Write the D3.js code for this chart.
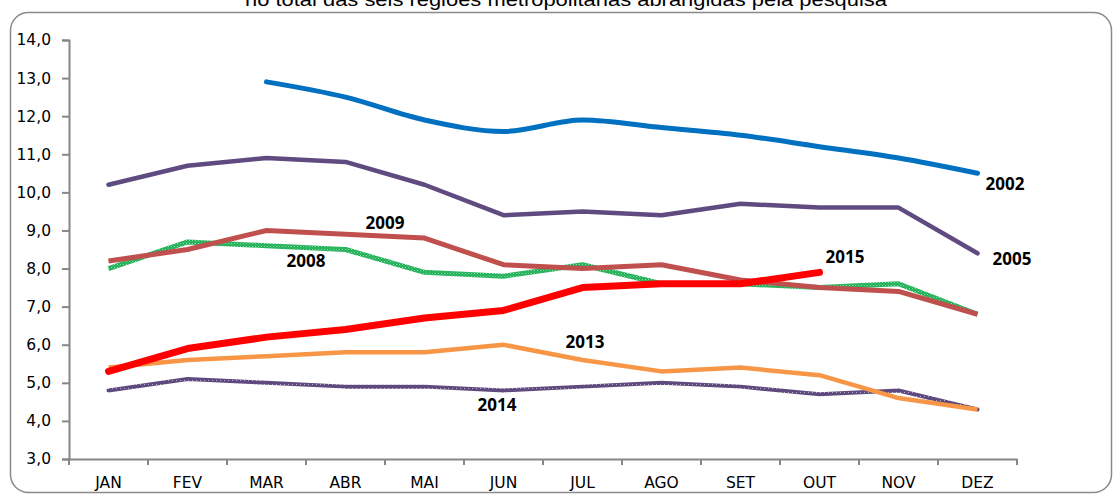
<!DOCTYPE html>
<html lang="pt">
<head>
<meta charset="UTF-8">
<title>Taxa de desemprego</title>
<style>
  body { margin: 0; padding: 0; background: #fff; }
  svg { display: block; }
</style>
</head>
<body>
<script src="https://d3js.org/d3.v7.min.js"></script>
<script>
// meses e valores
const months = ['JAN', 'FEV', 'MAR', 'ABR', 'MAI', 'JUN', 'JUL', 'AGO', 'SET', 'OUT', 'NOV', 'DEZ'];
const yTicks = [3, 4, 5, 6, 7, 8, 9, 10, 11, 12, 13, 14];

const s2002 = [null, null, 12.9, 12.5, 11.9, 11.6, 11.9, 11.7, 11.5, 11.2, 10.9, 10.5];
const s2005 = [10.2, 10.7, 10.9, 10.8, 10.2, 9.4, 9.5, 9.4, 9.7, 9.6, 9.6, 8.4];
const s2008 = [8.0, 8.7, 8.6, 8.5, 7.9, 7.8, 8.1, 7.6, 7.6, 7.5, 7.6, 6.8];
const s2009 = [8.2, 8.5, 9.0, 8.9, 8.8, 8.1, 8.0, 8.1, 7.7, 7.5, 7.4, 6.8];
const s2013 = [5.4, 5.6, 5.7, 5.8, 5.8, 6.0, 5.6, 5.3, 5.4, 5.2, 4.6, 4.3];
const s2014 = [4.8, 5.1, 5.0, 4.9, 4.9, 4.8, 4.9, 5.0, 4.9, 4.7, 4.8, 4.3];
const s2015 = [5.3, 5.9, 6.2, 6.4, 6.7, 6.9, 7.5, 7.6, 7.6, 7.9, null, null];

const width = 1113, height = 495;
const svg = d3.select('body').append('svg')
  .attr('width', width)
  .attr('height', height);

// textura das linhas 2008 e 2014
const defs = svg.append('defs');
const pGreen = defs.append('pattern').attr('id', 'pGreen')
  .attr('patternUnits', 'userSpaceOnUse').attr('width', 3).attr('height', 3);
pGreen.append('rect').attr('width', 3).attr('height', 3).attr('fill', '#1FAF57');
pGreen.append('rect').attr('width', 1).attr('height', 1).attr('fill', '#8FDDAA');
pGreen.append('rect').attr('x', 1.5).attr('y', 1.5).attr('width', 1).attr('height', 1).attr('fill', '#6CCF8E');
const pPurple = defs.append('pattern').attr('id', 'pPurple')
  .attr('patternUnits', 'userSpaceOnUse').attr('width', 4).attr('height', 4);
pPurple.append('rect').attr('width', 4).attr('height', 4).attr('fill', '#5E4A7E');
pPurple.append('rect').attr('width', 1).attr('height', 1).attr('fill', '#B7ABC8');

// moldura
svg.append('rect')
  .attr('x', 10.5).attr('y', 12.5)
  .attr('width', 1101).attr('height', 480)
  .attr('rx', 18)
  .attr('fill', 'none')
  .attr('stroke', '#8a8a8a')
  .attr('stroke-width', 1.5);

// título (cortado no topo, como no original)
svg.append('text')
  .attr('x', 566).attr('y', 6)
  .attr('text-anchor', 'middle')
  .attr('font-family', 'Liberation Sans, Arial, sans-serif')
  .attr('font-size', 19)
  .attr('textLength', 642)
  .attr('lengthAdjust', 'spacingAndGlyphs')
  .text('no total das seis regiões metropolitanas abrangidas pela pesquisa');

const x = d3.scaleBand().domain(months).range([69, 1017]);
const y = d3.scaleLinear().domain([3, 14]).range([459, 40]);
const cx = m => x(m) + x.bandwidth() / 2;

const axisColor = '#868686';
const tickFont = 'DejaVu Sans, Verdana, sans-serif';

// eixo Y
const yAxis = svg.append('g')
  .attr('transform', 'translate(69,0)')
  .call(d3.axisLeft(y).tickValues(yTicks).tickSize(7).tickPadding(11)
    .tickFormat(d => d3.format('.1f')(d).replace('.', ',')));
yAxis.select('.domain').attr('stroke', axisColor).attr('stroke-width', 2);
yAxis.selectAll('.tick line').attr('stroke', axisColor).attr('stroke-width', 2);
yAxis.selectAll('.tick text')
  .attr('fill', '#000')
  .attr('font-family', tickFont)
  .attr('font-size', 15.5);

// eixo X
const xAxis = svg.append('g')
  .attr('transform', 'translate(0,459)')
  .call(d3.axisBottom(x).tickSize(0).tickPadding(18));
xAxis.select('.domain').attr('stroke', axisColor).attr('stroke-width', 2);
xAxis.selectAll('.tick text')
  .attr('fill', '#000')
  .attr('font-family', tickFont)
  .attr('font-size', 15.5);
// marcas nos limites das categorias
const bounds = months.map(m => x(m)).concat([x.range()[1]]);
xAxis.selectAll('.bound')
  .data(bounds)
  .join('line')
  .attr('class', 'bound')
  .attr('x1', d => d).attr('x2', d => d)
  .attr('y1', 0).attr('y2', 6)
  .attr('stroke', axisColor)
  .attr('stroke-width', 2);

// séries
const series = [
  { name: '2002', values: s2002, color: '#0070C0', w: 5, curve: d3.curveMonotoneX, cap: 'round' },
  { name: '2005', values: s2005, color: '#5F4B80', w: 4.5, curve: d3.curveLinear, cap: 'round' },
  { name: '2008', values: s2008, color: 'url(#pGreen)', w: 5, curve: d3.curveLinear, cap: 'butt' },
  { name: '2009', values: s2009, color: '#C0504D', w: 5, curve: d3.curveLinear, cap: 'butt' },
  { name: '2014', values: s2014, color: 'url(#pPurple)', w: 4, curve: d3.curveLinear, cap: 'round' },
  { name: '2013', values: s2013, color: '#F79646', w: 4.5, curve: d3.curveLinear, cap: 'butt' },
  { name: '2015', values: s2015, color: '#FF0000', w: 7, curve: d3.curveLinear, cap: 'round' }
];

const line = d3.line()
  .defined(d => d.v !== null)
  .x(d => cx(d.m))
  .y(d => y(d.v));

svg.append('g').selectAll('path')
  .data(series)
  .join('path')
  .attr('d', s => line.curve(s.curve)(s.values.map((v, i) => ({ m: months[i], v }))))
  .attr('fill', 'none')
  .attr('stroke', s => s.color)
  .attr('stroke-width', s => s.w)
  .attr('stroke-linecap', s => s.cap)
  .attr('stroke-linejoin', 'round');

// rótulos das séries (ancorados num ponto da série)
const labels = [
  { text: '2002', m: 'DEZ', v: 10.5, dx: 8, dy: 17 },
  { text: '2005', m: 'DEZ', v: 8.4, dx: 15, dy: 12 },
  { text: '2008', m: 'ABR', v: 8.5, dx: -59, dy: 17 },
  { text: '2009', m: 'ABR', v: 8.9, dx: 20, dy: -5 },
  { text: '2015', m: 'OUT', v: 7.9, dx: 6, dy: -9 },
  { text: '2013', m: 'JUL', v: 5.6, dx: -17, dy: -12 },
  { text: '2014', m: 'JUN', v: 4.8, dx: -26, dy: 21 }
];

svg.append('g').selectAll('text')
  .data(labels)
  .join('text')
  .attr('x', d => cx(d.m) + d.dx)
  .attr('y', d => y(d.v) + d.dy)
  .attr('font-family', 'Open Sans, sans-serif')
  .attr('font-weight', 'bold')
  .attr('font-size', 17)
  .attr('fill', '#000')
  .text(d => d.text);
</script>
</body>
</html>
